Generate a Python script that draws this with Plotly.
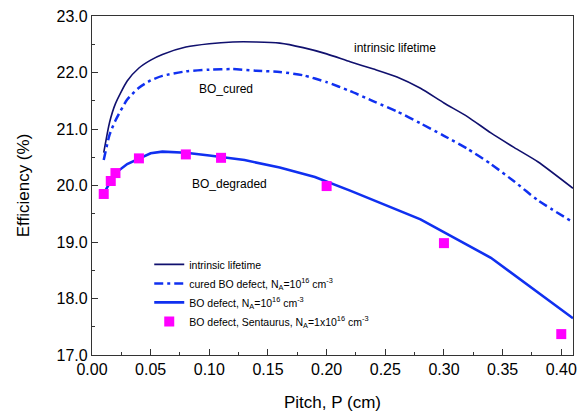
import plotly.graph_objects as go

# Pitch grid (cm) for simulated curves
pitch = [0.01, 0.015, 0.02, 0.03, 0.04, 0.05, 0.06, 0.08, 0.10, 0.12, 0.14, 0.16,
         0.18, 0.20, 0.22, 0.24, 0.26, 0.28, 0.30, 0.32, 0.34, 0.36, 0.38, 0.41]
eff_intrinsic = [20.58, 21.12, 21.45, 21.85, 22.08, 22.22, 22.32, 22.45, 22.51, 22.54, 22.54, 22.52,
                 22.44, 22.33, 22.19, 22.06, 21.92, 21.72, 21.46, 21.22, 20.93, 20.67, 20.42, 19.95]
eff_cured = [20.45, 20.90, 21.15, 21.52, 21.73, 21.86, 21.94, 22.02, 22.05, 22.06, 22.03, 22.01,
             21.95, 21.83, 21.67, 21.49, 21.31, 21.10, 20.88, 20.65, 20.38, 20.07, 19.74, 19.35]

pitch_deg = [0.01, 0.015, 0.02, 0.03, 0.04, 0.05, 0.06, 0.08, 0.10, 0.13, 0.16, 0.19,
             0.22, 0.28, 0.34, 0.41]
eff_degraded = [19.86, 20.05, 20.22, 20.38, 20.48, 20.57, 20.60, 20.58, 20.53, 20.45, 20.32, 20.15,
                19.91, 19.40, 18.72, 17.65]

# Sentaurus points
pitch_sent = [0.01, 0.016, 0.02, 0.04, 0.08, 0.11, 0.20, 0.30, 0.40]
eff_sent = [19.85, 20.08, 20.22, 20.48, 20.55, 20.49, 19.99, 18.98, 17.37]

font_family = "Liberation Sans, Arial, sans-serif"
navy = "#10106E"
blue = "#1030F0"
magenta = "#FF00FF"

fig = go.Figure()
fig.add_trace(go.Scatter(x=pitch, y=eff_intrinsic, mode="lines", name="intrinsic lifetime",
                         line=dict(color=navy, width=1.6, shape="spline", smoothing=0.6)))
fig.add_trace(go.Scatter(x=pitch, y=eff_cured, mode="lines",
                         name="cured BO defect, N<sub>A</sub>=10<sup>16</sup> cm<sup>-3</sup>",
                         line=dict(color=blue, width=2.5, dash="9px,4px,3px,4px",
                                   shape="spline", smoothing=0.6)))
fig.add_trace(go.Scatter(x=pitch_deg, y=eff_degraded, mode="lines",
                         name="BO defect, N<sub>A</sub>=10<sup>16</sup> cm<sup>-3</sup>",
                         line=dict(color=blue, width=2.6)))
fig.add_trace(go.Scatter(x=pitch_sent, y=eff_sent, mode="markers",
                         name="BO defect, Sentaurus, N<sub>A</sub>=1x10<sup>16</sup> cm<sup>-3</sup>",
                         marker=dict(symbol="square", size=10, color=magenta)))

ann_font = dict(family=font_family, size=12, color="black")
fig.add_annotation(x=0.258, y=22.43, text="intrinsic lifetime", showarrow=False, font=ann_font)
fig.add_annotation(x=0.114, y=21.71, text="BO_cured", showarrow=False, font=ann_font)
fig.add_annotation(x=0.117, y=20.03, text="BO_degraded", showarrow=False, font=ann_font)

axis_common = dict(showline=True, linecolor="#333333", linewidth=1.3, mirror=True,
                   ticks="inside", ticklen=6, tickwidth=1.2, tickcolor="#333333",
                   showgrid=False, zeroline=False,
                   tickfont=dict(family=font_family, size=16, color="black"))

fig.update_xaxes(range=[0, 0.41], dtick=0.05, tick0=0, tickformat=".2f",
                 minor=dict(dtick=0.025, ticks="inside", ticklen=3, tickcolor="#333333"),
                 automargin=False,
                 title=dict(text="Pitch, P (cm)", font=dict(family=font_family, size=17, color="black"),
                            standoff=18),
                 **axis_common)
fig.update_yaxes(range=[17, 23], dtick=1, tick0=17, tickformat=".1f",
                 minor=dict(dtick=0.5, ticks="inside", ticklen=3, tickcolor="#333333"),
                 title=dict(text="Efficiency (%)", font=dict(family=font_family, size=17, color="black"),
                            standoff=22),
                 **axis_common)

fig.update_layout(
    width=582, height=412,
    margin=dict(l=92, r=9, t=16, b=57),
    plot_bgcolor="white", paper_bgcolor="white",
    font=dict(family=font_family, color="black"),
    legend=dict(x=0.119, y=0.31, xanchor="left", yanchor="top",
                bgcolor="rgba(0,0,0,0)", font=dict(family=font_family, size=10.5, color="black"),
                tracegroupgap=0, itemwidth=30),
)

fig.write_html("out.html", config={"displayModeBar": False},
               post_script="document.body.style.margin='0';document.body.style.overflow='hidden';")
